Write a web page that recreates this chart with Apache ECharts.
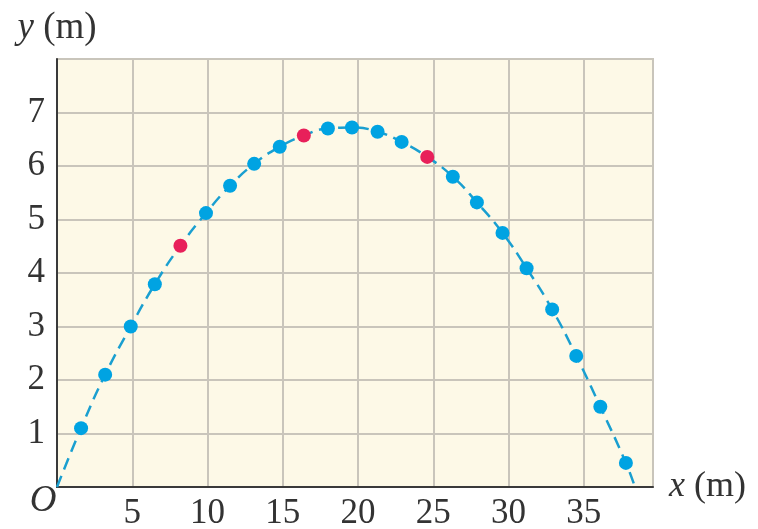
<!DOCTYPE html>
<html>
<head>
<meta charset="utf-8">
<script src="https://cdn.jsdelivr.net/npm/echarts@6/dist/echarts.min.js"></script>
<style>
  html, body { margin: 0; padding: 0; background: #fff; }
  #main { width: 758px; height: 529px; }
</style>
</head>
<body>
<div id="main"></div>
<script>
// positions of the ball (m)
var blueX = [1.6, 3.2, 4.9, 6.5, 9.9, 11.5, 13.1, 14.8, 18.0, 19.6, 21.3, 22.9, 26.3, 27.9, 29.6, 31.2, 32.9, 34.5, 36.1, 37.8];
var blueY = [1.10, 2.10, 3.00, 3.79, 5.12, 5.63, 6.04, 6.36, 6.70, 6.72, 6.64, 6.45, 5.80, 5.32, 4.75, 4.09, 3.32, 2.45, 1.50, 0.45];
var redX = [8.2, 16.4, 24.6];
var redY = [4.51, 6.57, 6.17];
// dashed path: launch point, all measured points, landing point
var pathX = [0, 1.6, 3.2, 4.9, 6.5, 8.2, 9.9, 11.5, 13.1, 14.8, 16.4, 18.0, 19.6, 21.3, 22.9, 24.6, 26.3, 27.9, 29.6, 31.2, 32.9, 34.5, 36.1, 37.8, 38.4];
var pathY = [0, 1.10, 2.10, 3.00, 3.79, 4.51, 5.12, 5.63, 6.04, 6.36, 6.57, 6.70, 6.72, 6.64, 6.45, 6.17, 5.80, 5.32, 4.75, 4.09, 3.32, 2.45, 1.50, 0.45, 0];

function pairs(xs, ys) {
	var out = [];
	for (var i = 0; i < xs.length; i++) out.push([xs[i], ys[i]]);
	return out;
}

var font = '"Liberation Serif", "DejaVu Serif", serif';
var textColor = '#333';
var myChart = echarts.init(document.getElementById('main'));
var option = {
	animation: false,
	grid: {
		left: 57, top: 59, right: 105, bottom: 42,
		outerBoundsMode: 'none',
		containLabel: false,
		show: true,
		backgroundColor: '#fdf9e7',
		borderColor: '#c9c5bb',
		borderWidth: 2
	},
	xAxis: {
		type: 'value',
		min: 0, max: 39.6, interval: 5,
		name: '{i|x} (m)',
		nameLocation: 'end',
		nameGap: 16,
		nameTextStyle: {
			fontFamily: font, fontSize: 36, color: textColor, verticalAlign: 'middle',
			rich: { i: { fontFamily: font, fontSize: 36, fontStyle: 'italic', color: textColor } }
		},
		axisLine: { show: true, lineStyle: { color: '#3a3a3a', width: 2 } },
		axisTick: { show: false },
		axisLabel: {
			fontFamily: font, fontSize: 35, color: textColor, margin: 9,
			showMaxLabel: false,
			formatter: function (v) {
				if (v === 0) return '{o|O}';
				return v % 5 === 0 ? String(v) : '';
			},
			// origin "O" sits a little higher and to the left of the corner
			rich: { o: { fontFamily: font, fontSize: 37, fontStyle: 'italic', color: textColor, lineHeight: 10, padding: [0, 28, 0, 0] } }
		},
		splitLine: { show: true, lineStyle: { color: '#c9c5bb', width: 2 } }
	},
	yAxis: {
		type: 'value',
		min: 0, max: 8, interval: 1,
		name: '{i|y} (m)',
		nameLocation: 'end',
		nameGap: 12,
		nameTextStyle: {
			fontFamily: font, fontSize: 37, color: textColor,
			rich: { i: { fontFamily: font, fontSize: 37, fontStyle: 'italic', color: textColor } }
		},
		axisLine: { show: true, lineStyle: { color: '#3a3a3a', width: 2 } },
		axisTick: { show: false },
		axisLabel: {
			fontFamily: font, fontSize: 35, color: textColor, margin: 12,
			formatter: function (v) { return (v === 0 || v === 8) ? '' : String(v); }
		},
		splitLine: { show: true, lineStyle: { color: '#c9c5bb', width: 2 } }
	},
	series: [
		{
			name: 'path',
			type: 'line',
			data: pairs(pathX, pathY),
			smooth: true,
			showSymbol: false,
			lineStyle: { color: '#1a9fd0', width: 2.5, type: [12, 7] },
			z: 2
		},
		{
			name: 'blue',
			type: 'scatter',
			data: pairs(blueX, blueY),
			symbolSize: 14,
			itemStyle: { color: '#00a3e2', opacity: 1 },
			z: 3
		},
		{
			name: 'red',
			type: 'scatter',
			data: pairs(redX, redY),
			symbolSize: 14,
			itemStyle: { color: '#e8205a', opacity: 1 },
			z: 3
		}
	]
};
myChart.setOption(option);
</script>
</body>
</html>
